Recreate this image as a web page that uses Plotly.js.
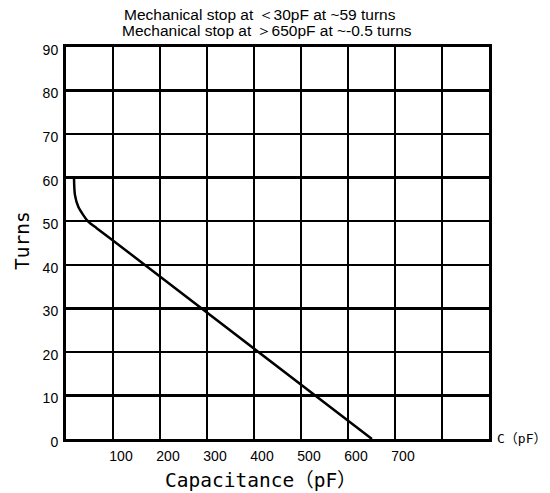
<!DOCTYPE html>
<html>
<head>
<meta charset="utf-8">
<script src="https://cdn.plot.ly/plotly-3.0.1.min.js"></script>
<style>html,body{margin:0;padding:0;background:#fff;}#chart{width:550px;height:493px;}</style>
</head>
<body>
<div id="chart"></div>
<script>
const capacitance = [17, 19.1, 26.2, 36.8, 47.4, 65.3, 93.6, 651];
const turns = [60, 56, 53.3, 51.4, 49.9, 48.4, 46.1, 0];
const xTickVals = [0, 100, 200, 300, 400, 500, 600, 700, 800, 900];
const xTickText = ['', '100', '200', '300', '400', '500', '600', '700', '', ''];
const yTickVals = [0, 10, 20, 30, 40, 50, 60, 70, 80, 90];
const yTickText = ['0', '10', '20', '30', '40', '50', '60', '70', '80', '90'];
const noteLines = ['Mechanical stop at ＜30pF at ~59 turns', 'Mechanical stop at ＞650pF at ~-0.5 turns'];
const xTitle = 'Capacitance（pF）';
const yTitle = 'Turns';
const xUnit = 'C（pF）';

const trace = {
  x: capacitance, y: turns, type: 'scatter', mode: 'lines',
  line: {color: '#000', width: 2.5, shape: 'spline', smoothing: 0.8},
  hoverinfo: 'skip'
};
const mono = '"DejaVu Sans Mono", "Noto Sans CJK SC", monospace';
const sans = '"Liberation Sans", Arial, sans-serif';
const layout = {
  width: 550, height: 493,
  margin: {l: 66, r: 61, t: 47, b: 54},
  paper_bgcolor: '#fff', plot_bgcolor: '#fff',
  showlegend: false,
  xaxis: {
    range: [0, 900], tickvals: xTickVals, ticktext: xTickText,
    showgrid: true, gridcolor: '#000', gridwidth: 2.5,
    zeroline: false, showline: true, linecolor: '#000', linewidth: 3, mirror: true,
    ticks: '', ticklabelstandoff: 2, ticklabelshift: 8,
    tickfont: {family: sans, size: 14, color: '#000'},
    fixedrange: true
  },
  yaxis: {
    range: [0, 90], tickvals: yTickVals, ticktext: yTickText,
    showgrid: true, gridcolor: '#000', gridwidth: 2.5,
    zeroline: false, showline: true, linecolor: '#000', linewidth: 3, mirror: true,
    ticks: '', ticklabelstandoff: 2, ticklabelshift: 3,
    tickfont: {family: sans, size: 14, color: '#000'},
    fixedrange: true
  },
  annotations: [
    {text: noteLines[0], xref: 'paper', yref: 'paper', x: (122 - 66) / 423, y: (439 - 14) / 392,
     xanchor: 'left', yanchor: 'middle', align: 'left', showarrow: false,
     font: {family: sans, size: 15.5, color: '#000'}},
    {text: noteLines[1], xref: 'paper', yref: 'paper', x: (120 - 66) / 423, y: (439 - 30) / 392,
     xanchor: 'left', yanchor: 'middle', align: 'left', showarrow: false,
     font: {family: sans, size: 15.5, color: '#000'}},
    {text: xTitle, xref: 'paper', yref: 'paper', x: (163 - 66) / 423, y: (439 - 480) / 392,
     xanchor: 'left', yanchor: 'middle', showarrow: false,
     font: {family: mono, size: 19.5, color: '#000'}},
    {text: yTitle, xref: 'paper', yref: 'paper', x: (22 - 66) / 423, y: (439 - 241) / 392, textangle: -90,
     xanchor: 'center', yanchor: 'middle', showarrow: false,
     font: {family: mono, size: 19.5, color: '#000'}},
    {text: xUnit, xref: 'paper', yref: 'paper', x: (495 - 66) / 423, y: (439 - 438) / 392,
     xanchor: 'left', yanchor: 'middle', showarrow: false,
     font: {family: mono, size: 13, color: '#000'}}
  ]
};
Plotly.newPlot('chart', [trace], layout, {staticPlot: true, displayModeBar: false});
</script>
</body>
</html>
